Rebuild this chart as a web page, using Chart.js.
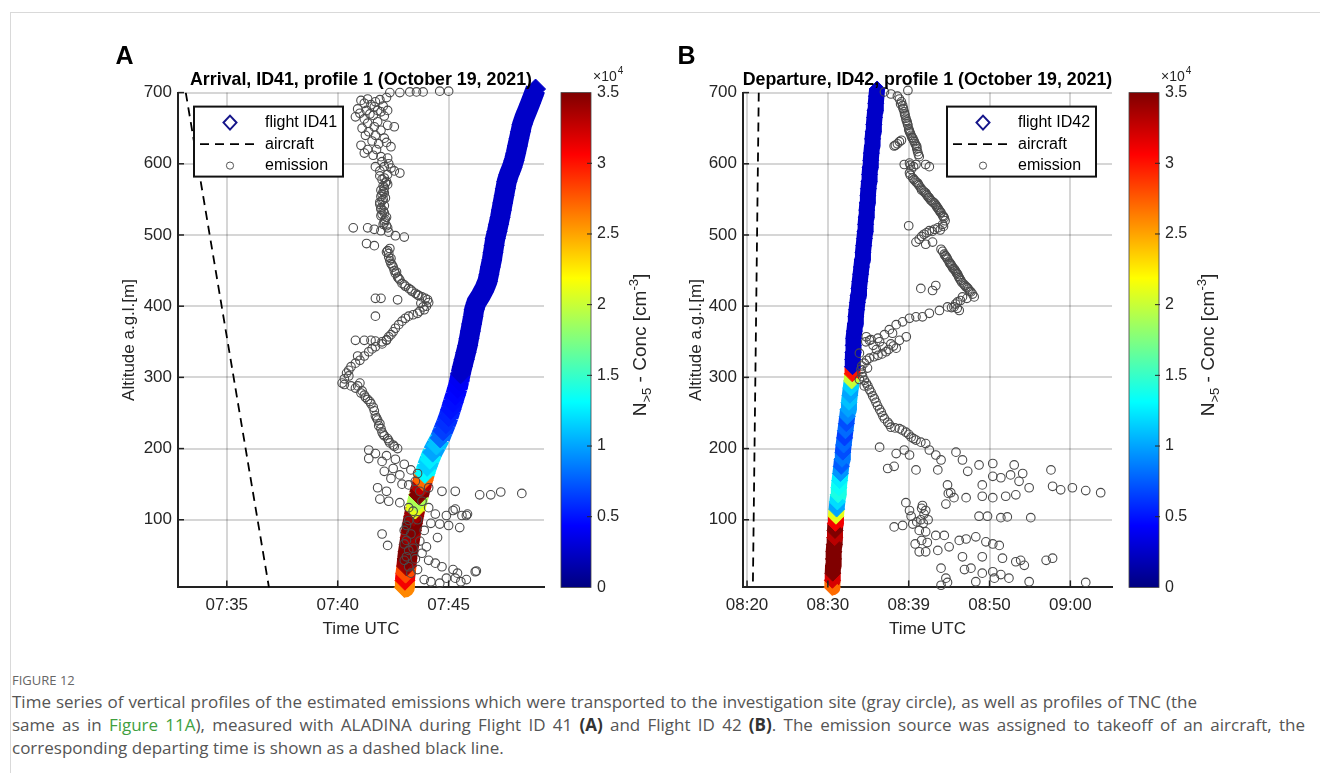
<!DOCTYPE html>
<html>
<head>
<meta charset="utf-8">
<script src="https://cdn.jsdelivr.net/npm/chart.js"></script>
<style>
  body { margin: 0; width: 1320px; height: 773px; background: #fff; position: relative; overflow: hidden; }
  #frame { position: absolute; left: 10px; top: 12px; width: 1320px; height: 780px; border-top: 1px solid #d9d9d9; border-left: 1px solid #d9d9d9; }
  canvas { position: absolute; }
  #chartA { left: 100px; top: 30px; }
  #chartB { left: 667px; top: 30px; }
  #caption { position: absolute; left: 12px; top: 670px; font-family: "Open Sans", "Noto Sans", sans-serif; font-size: 17px; line-height: 23px; color: #555; white-space: nowrap; }
  #caption .fig { font-size: 13px; line-height: 20px; margin-bottom: 0; color: #666; }
  #caption .lnk { color: #3f9f3f; }
  #caption b { color: #333; }
  #caption .l1 { width: 1185px; text-align: justify; text-align-last: justify; }
  #caption .l2 { width: 1293px; text-align: justify; text-align-last: justify; }
</style>
</head>
<body>
<div id="frame"></div>
<canvas id="chartA" width="560" height="620"></canvas>
<canvas id="chartB" width="600" height="620"></canvas>
<div id="caption">
  <div class="fig">FIGURE 12</div>
  <div class="l1">Time series of vertical profiles of the estimated emissions which were transported to the investigation site (gray circle), as well as profiles of TNC (the</div>
  <div class="l2">same as in <span class="lnk">Figure 11A</span>), measured with ALADINA during Flight ID 41 <b>(A)</b> and Flight ID 42 <b>(B)</b>. The emission source was assigned to takeoff of an aircraft, the</div>
  <div>corresponding departing time is shown as a dashed black line.</div>
</div>
<script>
const FONT = '"Liberation Sans", Arial, Helvetica, sans-serif';

// ---- axes ----
const yTicks = [100, 200, 300, 400, 500, 600, 700];
const cbarTicks = [0, 5000, 10000, 15000, 20000, 25000, 30000, 35000];
const xTicksA = [35, 40, 45];               // minutes after 07:00
const xLabelsA = ['07:35', '07:40', '07:45'];
const xTicksB = [20, 30, 40, 50, 60];       // minutes after 08:00
const xLabelsB = ['08:20', '08:30', '08:39', '08:50', '09:00'];

// ---- flight ID41 (arrival) ----
const flightA_alt = [5, 15, 25, 35, 45, 55, 65, 75, 85, 95, 105, 115, 125, 135, 145, 155, 165, 175, 185, 195,
  205, 215, 225, 235, 245, 255, 265, 275, 285, 295, 305, 315, 325, 335, 345, 355, 365, 375, 385, 395,
  405, 415, 425, 435, 445, 455, 465, 475, 485, 495, 505, 515, 525, 535, 545, 555, 565, 575, 585, 595,
  605, 615, 625, 635, 645, 655, 665, 675, 685, 695, 705];
const flightA_time = [43.00, 43.03, 43.06, 43.10, 43.13, 43.17, 43.22, 43.27, 43.32, 43.37, 43.43, 43.50, 43.58, 43.66, 43.75, 43.84, 43.93, 44.03, 44.15, 44.28,
  44.45, 44.62, 44.75, 44.88, 45.00, 45.10, 45.20, 45.30, 45.40, 45.48, 45.54, 45.62, 45.70, 45.78, 45.86, 45.92, 45.98, 46.04, 46.10, 46.15,
  46.25, 46.45, 46.62, 46.75, 46.82, 46.88, 46.95, 47.00, 47.05, 47.10, 47.18, 47.25, 47.32, 47.38, 47.44, 47.50, 47.56, 47.62, 47.72, 47.85,
  47.95, 48.03, 48.10, 48.17, 48.24, 48.31, 48.42, 48.55, 48.68, 48.80, 48.92];
const flightA_conc = [26000, 31000, 28000, 34000, 35000, 35000, 35000, 34000, 35000, 35000, 34000, 21000, 19000, 35000, 33000, 27000, 13000, 11500, 12500, 10000,
  11000, 8000, 6500, 6000, 5500, 5000, 4800, 4500, 4200, 4000, 2500, 2500, 2500, 2500, 2500, 2500, 2500, 2500, 2500, 2500,
  2500, 2500, 2500, 2500, 2500, 2500, 2500, 2500, 2500, 2500, 2500, 2500, 2500, 2500, 2500, 2500, 2500, 2500, 2500, 2500,
  2500, 2500, 2500, 2500, 2500, 2500, 2500, 2500, 2500, 2500, 2500];

// ---- flight ID42 (departure) ----
const flightB_alt = flightA_alt;
const flightB_time = [30.53, 30.56, 30.60, 30.64, 30.69, 30.74, 30.79, 30.84, 30.88, 30.93, 31.00, 31.08, 31.17, 31.26, 31.35, 31.45, 31.55, 31.65, 31.75, 31.85,
  31.95, 32.06, 32.17, 32.28, 32.39, 32.50, 32.61, 32.72, 32.83, 32.94, 33.02, 33.05, 33.08, 33.11, 33.14, 33.20, 33.28, 33.37, 33.46, 33.55,
  33.65, 33.75, 33.85, 33.95, 34.05, 34.15, 34.24, 34.34, 34.43, 34.52, 34.60, 34.67, 34.74, 34.81, 34.88, 34.95, 35.02, 35.09, 35.16, 35.23,
  35.31, 35.38, 35.46, 35.53, 35.61, 35.69, 35.77, 35.85, 35.93, 36.01, 36.09];
const flightB_conc = [27000, 32000, 35000, 35000, 35000, 35000, 35000, 33000, 35000, 31000, 21000, 10000, 12000, 14000, 13500, 12500, 9500, 7500, 8500, 7000,
  8000, 6500, 8000, 7000, 9000, 10000, 11000, 10000, 11500, 20000, 30000, 2500, 2500, 2500, 2500, 2500, 2500, 2500, 2500, 2500,
  2500, 2500, 2500, 2500, 2500, 2500, 2500, 2500, 2500, 2500, 2500, 2500, 2500, 2500, 2500, 2500, 2500, 2500, 2500, 2500,
  2500, 2500, 2500, 2500, 2500, 2500, 2500, 2500, 2500, 2500, 2500];

// ---- aircraft departure lines [time, alt] ----
const aircraftA = [[33.15, 700], [36.9, 5]];
const aircraftB = [[21.45, 700], [20.72, 5]];

// ---- emission [time, alt] ----
const emissionA = [
  [42.35,700],[42.8,700],[43.25,701],[43.55,701],[43.85,701],[44.6,702],[45.0,702],
  [41.05,689],[41.35,691],[41.7,687],[42.2,693],[40.9,677],[41.3,675],[41.65,680],[41.95,673],[42.25,675],
  [41.2,685],[41.5,683],[41.9,690],[42.05,681],[41.0,671],[41.45,670],[41.8,675],[42.1,667],[41.35,657],
  [41.65,652],[41.95,647],[41.25,640],[41.55,632],[41.85,628],[42.2,630],[41.35,620],[41.75,620],
  [40.8,666],[41.2,663],[41.6,668],[41.8,659],[42.25,654],[42.55,652],[41.1,650],[41.4,645],[41.7,640],
  [42.1,636],[42.4,624],[41.05,626],[41.2,615],[41.6,612],[41.95,610],[42.25,608],[41.7,596],[42.1,596],
  [42.4,594],[42.8,587],[42.25,585],[42.0,603],[42.3,600],[41.9,590],[42.55,590],
  [42.2,575],[42.25,571],[42.1,566],[42.0,557],[42.15,552],[42.0,548],[41.95,538],[42.05,534],[42.0,529],
  [42.2,525],[42.1,520],[42.2,513],[42.1,580],[42.05,561],[41.9,543],[42.1,517],
  [41.9,583],[42.0,578],[42.15,573],[42.05,569],[41.95,563],[42.1,559],[41.95,554],[42.05,550],[41.9,546],
  [42.1,541],[41.95,536],[42.1,531],[41.95,527],[42.15,522],[42.05,515],[42.25,510],
  [40.7,510],[41.35,510],[41.65,508],[41.95,506],[42.3,504],[42.6,499],[43.0,497],[41.3,488],[41.65,485],
  [42.25,478],[42.3,469],[42.4,460],[42.55,450],[42.7,441],[42.9,432],[43.2,425],[43.5,418],[43.8,413],
  [44.05,409],[43.75,404],[43.9,395],[43.6,390],[42.3,474],[42.35,464],[42.5,455],[42.6,446],[42.8,437],
  [43.05,428],[43.35,421],[43.65,415],[44.0,400],
  [42.35,481],[42.2,476],[42.4,467],[42.45,458],[42.65,448],[42.75,439],[43.0,430],[43.3,423],[43.6,416],
  [43.95,411],[44.1,405],[43.85,399],[43.7,393],[43.4,388],[43.05,383],[42.75,374],[42.5,364],[42.3,357],
  [41.7,411],[41.95,411],[42.7,409],[41.7,386],
  [43.2,386],[42.9,379],[42.6,369],[42.4,360],[42.2,353],[41.7,351],[41.2,352],[40.8,352],[42.0,350],[41.5,352],
  [42.2,352],[41.7,343],[41.4,336],[41.0,324],[40.6,315],[40.4,306],[40.2,292],[40.6,288],[41.0,292],
  [41.1,281],[41.35,269],[41.6,258],[41.7,246],[41.9,235],[42.0,223],[42.25,214],[42.5,205],[42.7,200],
  [40.9,330],[40.5,310],[40.3,298],[40.8,285],[41.2,275],[41.5,263],[41.8,240],[41.95,228],[42.1,218],[42.35,208],
  [42.0,347],[41.55,340],[41.2,330],[40.8,320],[40.5,302],[40.3,290],[40.9,288],[41.05,278],[41.25,272],
  [41.45,266],[41.65,253],[41.75,243],[41.85,232],[42.05,220],[42.3,211],[42.55,203],
  [41.4,198],[41.7,193],[41.4,186],[42.0,182],[42.5,172],[42.8,163],[42.2,190],[42.6,185],[43.0,178],
  [43.3,170],[42.4,158],[42.9,150],[43.6,165],[42.1,168],
  [41.8,145],[42.2,140],[43.2,149],[43.5,154],[43.7,140],[44.1,145],[44.7,140],[45.3,140],
  [41.9,129],[42.3,126],[42.8,124],[43.2,117],[43.8,126],[44.1,117],[44.4,108],[44.9,106],[45.3,115],
  [45.6,106],[45.85,108],[45.2,113],[45.8,106],[43.4,112],[43.6,100],
  [46.4,135],[46.9,135],[47.35,139],[48.3,137],
  [44.6,94],[45.0,92],[45.5,89],[43.2,99],[43.0,85],[42.0,80],[42.25,64],[43.1,71],[43.2,57],
  [43.1,92],[43.3,80],[43.0,66],[43.4,60],[43.1,48],[43.5,45],[43.7,70],[43.9,85],[44.2,95],[44.5,75],[44.0,62],
  [43.0,43],[43.2,34],[43.8,53],[44.1,43],[44.4,39],[44.7,34],[45.2,30],[45.4,25],[46.2,27],[46.25,28],
  [43.3,25],[43.6,30],[43.9,16],[44.2,13],[44.9,18],[45.3,18],[45.55,13],[45.8,16],[44.6,11]
];
const emissionB = [
  [37.0,701],[37.8,698],[39.9,703],[38.85,691],[39.25,682],[39.45,673],[39.65,664],[39.9,654],[40.1,645],
  [40.5,636],[40.9,626],[41.1,617],[41.3,610],[38.85,631],[38.35,626],[38.2,625],[38.6,628],[39.1,633],
  [39.1,687],[39.35,677],[39.55,668],[39.8,659],[40.0,649],[40.3,640],[40.7,631],[41.0,621],
  [38.6,695],[39.0,684],[39.3,678],[39.5,670],[39.7,661],[39.85,656],[40.05,647],[40.2,643],[40.4,637],
  [40.6,633],[40.8,628],[41.0,624],[41.2,613],
  [39.45,599],[40.1,601],[40.9,599],[42.1,599],[42.55,596],[40.1,587],[40.5,580],[41.1,573],[41.5,566],
  [42.1,559],[42.55,552],[43.15,545],[43.6,538],[44.0,531],[44.4,524],[44.2,515],[43.6,510],[42.55,506],
  [40.3,592],[40.8,576],[41.3,569],[41.8,562],[42.3,555],[42.85,548],[43.4,541],[43.8,534],[44.2,527],
  [40.2,598],[40.6,596],[40.2,584],[40.65,578],[40.95,574],[41.2,571],[41.6,563],[41.95,560],[42.2,557],
  [42.45,553],[42.7,549],[43.0,546],[43.3,543],[43.5,539],[43.7,536],[43.95,532],[44.3,526],[44.5,520],
  [44.3,512],[43.9,507],[43.2,508],[42.9,505],[42.2,503],[41.6,498],
  [41.9,501],[41.3,494],[40.9,490],[42.1,487],[42.95,490],[40.0,513],
  [44.0,480],[44.4,473],[44.8,466],[45.2,459],[45.65,452],[46.05,445],[46.45,436],[47.1,427],[47.7,420],
  [44.6,470],[45.0,462],[45.4,455],[45.85,448],[46.25,440],[46.8,431],[47.4,424],
  [44.2,477],[44.5,471],[44.7,468],[45.1,460],[45.3,457],[45.5,453],[45.75,450],[45.95,446],[46.15,442],
  [46.35,438],[46.6,433],[46.95,429],[47.25,426],[47.55,421],[47.9,417],[47.2,411],[46.4,408],[45.8,403],
  [46.0,397],[45.3,398],
  [48.1,413],[46.65,413],[46.05,406],[45.6,399],[46.25,394],[44.8,399],[43.8,394],[41.5,425],[42.95,422],[43.35,429],
  [42.55,390],[41.7,385],[40.9,385],[40.1,383],[39.25,378],[38.45,374],[37.6,367],[37.0,360],[36.2,355],
  [35.35,353],[34.7,350],[34.75,357],[38.0,362],[39.7,357],[36.0,339],
  [35.15,352],[36.4,350],[37.8,347],[38.85,352],[38.45,341],[37.2,336],[36.2,331],[35.15,327],[34.5,320],
  [34.1,311],[34.3,301],[34.75,292],[35.15,283],[35.55,274],[35.95,265],[36.4,255],[36.8,246],[37.4,237],
  [33.9,334],[34.9,313],[33.9,297],[34.5,288],
  [34.2,316],[34.2,306],[34.5,296],[34.95,288],[35.35,279],[35.75,270],[36.15,260],[36.6,251],[37.0,242],
  [37.6,234],[38.3,229],[39.2,226],[40.0,220],[40.6,214],[35.6,345],[36.8,343],[37.5,339],[38.1,344],
  [36.7,333],[35.7,329],[34.8,324],
  [37.8,230],[38.85,228],[39.65,223],[40.3,216],[40.9,212],[41.5,209],[42.1,207],[42.55,198],[43.35,191],
  [44.0,184],[36.4,202],[38.45,193],[39.45,198],[40.1,191],[37.4,172],[38.2,175],[40.9,170],[43.6,170],
  [45.85,195],[46.65,184],[47.3,168],[48.7,177],[50.4,179],[53.05,177],[54.1,165],[57.6,170],
  [44.8,149],[47.1,131],[49.1,149],[50.4,161],[51.4,159],[52.6,163],[53.65,154],[54.9,145],[52.0,133],
  [53.25,135],[50.4,131],[49.1,133],[57.8,147],[58.8,142],[60.25,145],[61.9,141],[63.75,138],
  [45.2,138],[45.6,131],[44.9,137],
  [39.65,124],[41.7,120],[42.1,113],[40.1,113],[44.6,122],[41.6,116],[41.9,108],[41.5,100],[41.0,97],
  [40.3,105],[41.8,95],[42.4,100],
  [48.7,105],[49.75,105],[51.4,103],[52.2,104],[55.1,103],
  [38.2,90],[39.25,92],[40.5,94],[41.3,85],[42.1,83],[43.35,78],[44.4,78],[41.6,71],[42.3,68],[40.8,66],
  [41.3,55],[42.1,55],[43.6,57],[45.0,62],[46.25,71],[47.1,73],[48.3,76],[49.55,69],[50.4,66],[51.2,64],
  [46.65,48],[49.1,48],[51.6,46],[53.25,41],[53.85,43],[54.3,36],[57.0,43],[57.8,46],
  [44.0,32],[46.9,30],[47.7,32],[49.1,25],[50.4,27],[51.4,23],[52.4,18],[44.6,18],[44.8,12],[48.3,13],
  [50.6,18],[54.9,13],[61.9,12],[44.0,8]
];

// jet colormap, 0 .. 3.5e4
function jet(c) {
  const v = Math.min(Math.max(c / 35000, 0), 1);
  const f = k => Math.round(255 * Math.min(Math.max(1.5 - Math.abs(4 * v - k), 0), 1));
  return 'rgb(' + f(3) + ',' + f(2) + ',' + f(1) + ')';
}

function line(ctx, x1, y1, x2, y2) {
  ctx.beginPath(); ctx.moveTo(x1, y1); ctx.lineTo(x2, y2); ctx.stroke();
}

const decor = {
  id: 'decor',
  afterDraw(chart, args, o) {
    const { ctx, chartArea: ca, scales } = chart;
    ctx.save();
    ctx.textAlign = 'center';
    ctx.textBaseline = 'middle';
    ctx.fillStyle = '#000';
    ctx.font = 'bold 25px ' + FONT;
    ctx.fillText(o.label, o.labelX, 27);
    ctx.font = 'bold 17.8px ' + FONT;
    ctx.fillText(o.title, (ca.left + ca.right) / 2, 50);

    // inward tick marks
    ctx.strokeStyle = '#222';
    ctx.lineWidth = 1.5;
    scales.y.ticks.forEach(t => {
      const y = scales.y.getPixelForValue(t.value);
      line(ctx, ca.left, y, ca.left + 6, y);
    });
    scales.x.ticks.forEach(t => {
      const x = scales.x.getPixelForValue(t.value);
      line(ctx, x, ca.bottom, x, ca.bottom - 7);
    });

    // colorbar
    const cb = scales.cbar;
    const bx = ca.right + 17, bw = 30;
    const top = cb.getPixelForValue(35000), bot = cb.getPixelForValue(0);
    const g = ctx.createLinearGradient(0, bot, 0, top);
    for (let i = 0; i <= 64; i++) g.addColorStop(i / 64, jet(i / 64 * 35000));
    ctx.fillStyle = g;
    ctx.fillRect(bx, top, bw, bot - top);
    ctx.strokeStyle = '#444';
    ctx.lineWidth = 0.8;
    ctx.strokeRect(bx, top, bw, bot - top);
    ctx.strokeStyle = '#262626';
    ctx.lineWidth = 1;
    cb.ticks.forEach(t => {
      if (t.value <= 0 || t.value >= 35000) return;
      const y = cb.getPixelForValue(t.value);
      line(ctx, bx + bw - 4, y, bx + bw + 1, y);
    });
    ctx.fillStyle = '#262626';
    ctx.textAlign = 'left';
    ctx.font = '14px ' + FONT;
    ctx.fillText('\u00d710', ca.right + 49, 47);
    const w10 = ctx.measureText('\u00d710').width;
    ctx.font = '10px ' + FONT;
    ctx.fillText('4', ca.right + 49 + w10 + 1, 41);

    // colorbar title
    ctx.save();
    ctx.translate(ca.right + 97, (top + bot) / 2 + 5);
    ctx.rotate(-Math.PI / 2);
    const big = '19px ' + FONT, small = '13px ' + FONT;
    const parts = [['N', big, 0], ['>5', small, 6], [' - Conc [cm', big, 0], ['-3', small, -7], [']', big, 0]];
    let tw = 0;
    parts.forEach(p => { ctx.font = p[1]; tw += ctx.measureText(p[0]).width; });
    let px = -tw / 2;
    parts.forEach(p => { ctx.font = p[1]; ctx.fillText(p[0], px, p[2]); px += ctx.measureText(p[0]).width; });
    ctx.restore();

    // legend
    const lx = ca.left + o.legendX, ly = ca.top + 14, lw = 149, lh = 70;
    ctx.fillStyle = '#fff';
    ctx.fillRect(lx, ly, lw, lh);
    ctx.strokeStyle = '#111';
    ctx.lineWidth = 2;
    ctx.strokeRect(lx, ly, lw, lh);
    const dx = lx + 36, r1 = ly + 16, r2 = ly + 37.5, r3 = ly + 59;
    ctx.beginPath();
    ctx.moveTo(dx, r1 - 7); ctx.lineTo(dx + 6.5, r1); ctx.lineTo(dx, r1 + 7); ctx.lineTo(dx - 6.5, r1); ctx.closePath();
    ctx.strokeStyle = '#15158a';
    ctx.lineWidth = 2;
    ctx.stroke();
    ctx.strokeStyle = '#000';
    ctx.lineWidth = 1.8;
    ctx.setLineDash([9, 6]);
    line(ctx, lx + 6, r2, lx + 61, r2);
    ctx.setLineDash([]);
    ctx.beginPath();
    ctx.arc(dx, r3, 3.6, 0, Math.PI * 2);
    ctx.strokeStyle = '#555';
    ctx.lineWidth = 1;
    ctx.stroke();
    ctx.fillStyle = '#000';
    ctx.font = '16px ' + FONT;
    ctx.fillText(o.flightLabel, lx + 71, r1);
    ctx.fillText('aircraft', lx + 71, r2);
    ctx.fillText('emission', lx + 71, r3);
    ctx.restore();
  }
};

function makePanel(id, p) {
  const tickFont = { family: FONT, size: 17 };
  const gridColor = 'rgba(0,0,0,0.16)';
  const flightPts = p.alt.map((a, i) => ({ x: p.time[i], y: a }));
  const flightCol = p.conc.map(jet);
  new Chart(document.getElementById(id), {
    type: 'scatter',
    data: {
      datasets: [
        {
          label: 'emission',
          data: p.emission.map(e => ({ x: e[0], y: e[1] })),
          pointStyle: 'circle',
          pointRadius: 4.3,
          borderColor: '#4a4a4a',
          borderWidth: 1.1,
          backgroundColor: 'rgba(0,0,0,0)',
          clip: false,
          order: 0
        },
        {
          label: p.flightLabel,
          data: flightPts,
          pointStyle: 'rectRot',
          pointRadius: p.markerR,
          backgroundColor: flightCol,
          borderColor: flightCol,
          borderWidth: 1,
          clip: false,
          order: 1
        },
        {
          type: 'line',
          label: 'track',
          data: flightPts,
          borderWidth: p.markerR * 2,
          borderCapStyle: 'butt',
          borderJoinStyle: 'round',
          segment: { borderColor: c => flightCol[c.p0DataIndex] },
          pointRadius: 0,
          tension: 0,
          fill: false,
          clip: false,
          order: 1.5
        },
        {
          type: 'line',
          label: 'aircraft',
          data: p.aircraft.map(e => ({ x: e[0], y: e[1] })),
          borderColor: '#000',
          borderWidth: 1.8,
          borderDash: [9, 6],
          pointRadius: 0,
          fill: false,
          order: 2
        }
      ]
    },
    options: {
      responsive: false,
      animation: false,
      events: [],
      layout: { padding: { top: 62, left: 0, right: 0, bottom: 0 } },
      plugins: {
        legend: { display: false },
        tooltip: { enabled: false },
        decor: { label: p.label, labelX: p.labelX, title: p.title, legendX: p.legendX, flightLabel: p.flightLabel }
      },
      scales: {
        x: {
          type: 'linear', position: 'bottom', min: p.xMin, max: p.xMax,
          afterBuildTicks: s => { s.ticks = p.xTicks.map(v => ({ value: v })); },
          afterFit: s => { s.height = 56; },
          ticks: { autoSkip: false, maxRotation: 0, padding: 8, font: tickFont, color: '#262626',
                   callback: (v, i) => p.xLabels[i] },
          grid: { color: gridColor, lineWidth: 2, drawTicks: false },
          border: { display: true, color: '#222', width: 2 },
          title: { display: true, text: 'Time UTC', font: tickFont, color: '#262626', padding: { top: 0, bottom: 4 } }
        },
        y: {
          type: 'linear', position: 'left', min: 5, max: 700,
          afterBuildTicks: s => { s.ticks = yTicks.map(v => ({ value: v })); },
          afterFit: s => { s.width = p.yWidth; },
          ticks: { padding: 6, font: tickFont, color: '#262626' },
          grid: { color: gridColor, lineWidth: 2, drawTicks: false },
          border: { display: true, color: '#222', width: 2 },
          title: { display: true, text: 'Altitude a.g.l.[m]', font: tickFont, color: '#262626', padding: { top: 19, bottom: 0 } }
        },
        cbar: {
          type: 'linear', position: 'right', min: 0, max: 35000,
          afterBuildTicks: s => { s.ticks = cbarTicks.map(v => ({ value: v })); },
          afterFit: s => { s.width = p.cbarWidth; },
          ticks: { padding: 53, font: { family: FONT, size: 16 }, color: '#262626',
                   callback: v => String(v / 1e4) },
          grid: { display: false, drawTicks: false },
          border: { display: false }
        }
      }
    },
    plugins: [decor]
  });
}

makePanel('chartA', {
  label: 'A', labelX: 24.5, legendX: 16,
  title: 'Arrival, ID41, profile 1 (October 19, 2021)',
  flightLabel: 'flight ID41',
  xMin: 32.8, xMax: 49.3, xTicks: xTicksA, xLabels: xLabelsA,
  yWidth: 78, cbarWidth: 116, markerR: 10,
  alt: flightA_alt, time: flightA_time, conc: flightA_conc,
  aircraft: aircraftA, emission: emissionA
});

makePanel('chartB', {
  label: 'B', labelX: 19.5, legendX: 204,
  title: 'Departure, ID42, profile 1 (October 19, 2021)',
  flightLabel: 'flight ID42',
  xMin: 19.5, xMax: 65.15, xTicks: xTicksB, xLabels: xLabelsB,
  yWidth: 76, cbarWidth: 155, markerR: 8,
  alt: flightB_alt, time: flightB_time, conc: flightB_conc,
  aircraft: aircraftB, emission: emissionB
});
</script>
</body>
</html>
